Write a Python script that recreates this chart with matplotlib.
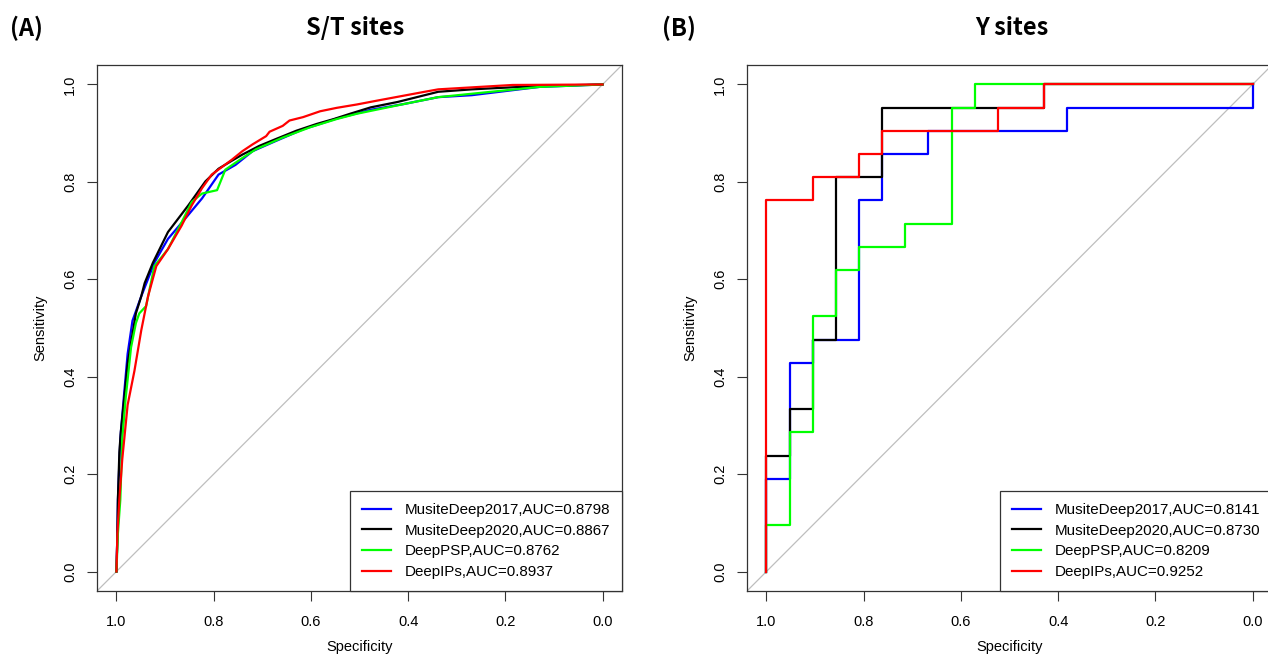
import matplotlib
matplotlib.use("Agg")
import matplotlib.pyplot as plt
import numpy as np

plt.rcParams["font.family"] = ["Liberation Sans", "DejaVu Sans"]

models = ["MusiteDeep2017", "MusiteDeep2020", "DeepPSP", "DeepIPs"]
colors = ["#0000FF", "#000000", "#00FF00", "#FF0000"]

# S/T sites: ROC curves (specificity, sensitivity)
st_auc = ["0.8798", "0.8867", "0.8762", "0.8937"]
st_spec = {
    "MusiteDeep2017": [1.0, 0.998, 0.997, 0.992, 0.985, 0.977, 0.967, 0.949, 0.922, 0.894, 0.859,
                       0.824, 0.790, 0.755, 0.720, 0.672, 0.616, 0.547, 0.477, 0.408, 0.338, 0.269, 0.130, 0.0],
    "MusiteDeep2020": [1.0, 0.998, 0.997, 0.994, 0.991, 0.984, 0.977, 0.960, 0.949, 0.942, 0.925, 0.894,
                       0.852, 0.817, 0.790, 0.765, 0.741, 0.706, 0.672, 0.630, 0.588, 0.553, 0.519,
                       0.477, 0.422, 0.338, 0.269, 0.130, 0.0],
    "DeepPSP": [1.0, 0.997, 0.992, 0.988, 0.981, 0.970, 0.960, 0.953, 0.939, 0.922, 0.894, 0.866,
                0.845, 0.824, 0.793, 0.776, 0.741, 0.713, 0.658, 0.602, 0.547, 0.505, 0.408,
                0.338, 0.269, 0.130, 0.0],
    "DeepIPs": [1.0, 0.998, 0.994, 0.988, 0.977, 0.963, 0.949, 0.935, 0.918, 0.894, 0.866, 0.845,
                0.824, 0.804, 0.762, 0.741, 0.720, 0.692, 0.685, 0.658, 0.644, 0.616, 0.581,
                0.547, 0.505, 0.463, 0.366, 0.338, 0.185, 0.0],
}
st_sens = {
    "MusiteDeep2017": [0.0, 0.078, 0.148, 0.273, 0.356, 0.447, 0.515, 0.565, 0.634, 0.683, 0.724,
                       0.766, 0.815, 0.835, 0.863, 0.884, 0.908, 0.930, 0.948, 0.960, 0.974, 0.978, 0.995, 1.0],
    "MusiteDeep2020": [0.0, 0.078, 0.148, 0.245, 0.287, 0.356, 0.427, 0.530, 0.565, 0.592, 0.634, 0.697,
                       0.752, 0.801, 0.827, 0.842, 0.856, 0.874, 0.888, 0.905, 0.919, 0.929, 0.940,
                       0.953, 0.964, 0.985, 0.990, 0.997, 1.0],
    "DeepPSP": [0.0, 0.078, 0.148, 0.273, 0.356, 0.460, 0.510, 0.530, 0.545, 0.627, 0.662, 0.717,
                0.759, 0.776, 0.783, 0.825, 0.849, 0.867, 0.891, 0.912, 0.929, 0.940, 0.960,
                0.974, 0.981, 0.995, 1.0],
    "DeepIPs": [0.0, 0.078, 0.148, 0.231, 0.342, 0.412, 0.495, 0.565, 0.627, 0.662, 0.710, 0.752,
                0.787, 0.815, 0.846, 0.863, 0.877, 0.894, 0.903, 0.915, 0.926, 0.933, 0.945,
                0.952, 0.959, 0.967, 0.985, 0.990, 0.999, 1.0],
}

# Y sites: 21 positive and 21 negative sites, staircase corners (false positives, true positives)
n_pos = 21
n_neg = 21
y_auc = ["0.8141", "0.8730", "0.8209", "0.9252"]
y_fp = {
    "MusiteDeep2017": [0, 1, 2, 4, 5, 7, 13, 21, 21],
    "MusiteDeep2020": [0, 1, 2, 3, 5, 12, 21],
    "DeepPSP": [0, 1, 2, 3, 4, 6, 8, 9, 21],
    "DeepIPs": [0, 2, 4, 5, 10, 12, 21],
}
y_tp = {
    "MusiteDeep2017": [0, 4, 9, 10, 16, 18, 19, 20, 21],
    "MusiteDeep2020": [0, 5, 7, 10, 17, 20, 21],
    "DeepPSP": [0, 2, 6, 11, 13, 14, 15, 20, 21],
    "DeepIPs": [0, 16, 17, 18, 19, 20, 21],
}

W, H = 1268, 654
fig = plt.figure(figsize=(W / 100, H / 100), dpi=100)


def px_axes(x0, x1, y_top, y_bot):
    return fig.add_axes([x0 / W, (H - y_bot) / H, (x1 - x0) / W, (y_bot - y_top) / H])


def style_roc(ax):
    ax.set_xlim(1.04, -0.04)
    ax.set_ylim(-0.04, 1.04)
    ticks = [1.0, 0.8, 0.6, 0.4, 0.2, 0.0]
    ax.set_xticks(ticks)
    ax.set_xticklabels(["%.1f" % t for t in ticks])
    ax.set_yticks(ticks[::-1])
    ax.set_yticklabels(["%.1f" % t for t in ticks[::-1]], rotation=90, va="center")
    ax.tick_params(length=7.2, width=0.8, color="#333333", labelsize=10.5, pad=7)
    ax.tick_params(axis="x", pad=10)
    for s in ax.spines.values():
        s.set_linewidth(0.9)
        s.set_color("#333333")
    ax.axline((1, 0), (0, 1), color="#BEBEBE", lw=0.9, zorder=1)
    ax.set_xlabel("Specificity", fontsize=10.5, va="center")
    ax.set_ylabel("Sensitivity", fontsize=10.5, va="center")
    ax.xaxis.set_label_coords(0.5, -0.107)
    ax.yaxis.set_label_coords(-0.107, 0.5)


def add_legend(ax):
    leg = ax.legend(loc="lower right", bbox_to_anchor=(1, 0), borderaxespad=0,
                    fontsize=10.9, frameon=True, fancybox=False, framealpha=1,
                    edgecolor="#333333", handlelength=1.95, handletextpad=0.86,
                    borderpad=0.8, labelspacing=0.44)
    leg.get_frame().set_linewidth(0.9)


# (A) S/T sites
ax1 = px_axes(97, 622, 65, 591)
for m, c, auc in zip(models, colors, st_auc):
    ax1.plot(st_spec[m], st_sens[m], color=c, lw=1.6, label="%s,AUC=%s" % (m, auc))
style_roc(ax1)
add_legend(ax1)

# (B) Y sites
ax2 = px_axes(747, 1272, 65, 591)
for m, c, auc in zip(models, colors, y_auc):
    spec = 1 - np.array(y_fp[m]) / n_neg
    sens = np.array(y_tp[m]) / n_pos
    ax2.plot(spec, sens, color=c, lw=1.6, drawstyle="steps-pre", label="%s,AUC=%s" % (m, auc))
style_roc(ax2)
add_legend(ax2)

title_font = ["Noto Sans CJK SC", "DejaVu Sans"]
fig.text(355 / W, 1 - 28 / H, "S/T sites", fontsize=17, fontweight="bold",
         family=title_font, ha="center", va="center")
fig.text(1012 / W, 1 - 28 / H, "Y sites", fontsize=17, fontweight="bold",
         family=title_font, ha="center", va="center")
fig.text(10 / W, 1 - 28 / H, "(A)", fontsize=17, fontweight="bold",
         family=title_font, ha="left", va="center")
fig.text(662 / W, 1 - 28 / H, "(B)", fontsize=17, fontweight="bold",
         family=title_font, ha="left", va="center")

fig.savefig("out.png", dpi=100)
